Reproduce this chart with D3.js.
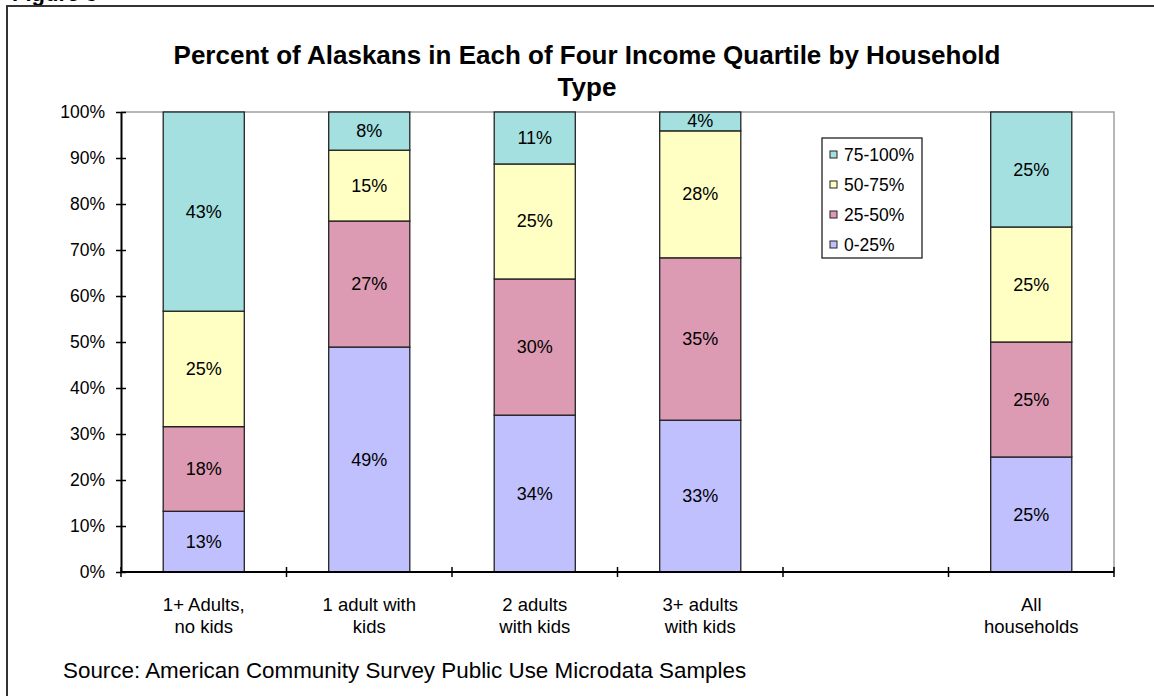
<html>
<script src="https://d3js.org/d3.v7.min.js"></script>
<style>
    body { margin: 0; background: #fff; }
    svg text { font-family: "Liberation Sans", Arial, sans-serif; }
</style>
<body>
<svg width="1154" height="696"></svg>
<script>
    // categories on the x axis (empty slot between 3+ and All)
    var categories = ["1+ Adults,|no kids", "1 adult with|kids", "2 adults|with kids", "3+ adults|with kids", "", "All|households"];
    var quartiles = ["0-25%", "25-50%", "50-75%", "75-100%"];
    var q0_25   = [13.2, 48.9, 34.1, 33.0, null, 25.0];
    var q25_50  = [18.4, 27.4, 29.6, 35.3, null, 25.0];
    var q50_75  = [25.1, 15.4, 25.0, 27.6, null, 25.0];
    var q75_100 = [43.3,  8.3, 11.3,  4.1, null, 25.0];
    var yTicks = [0, 10, 20, 30, 40, 50, 60, 70, 80, 90, 100];
    var colors = ["#c0c0ff", "#dd9bb3", "#ffffc4", "#a4e0e0"];

    var series = [q0_25, q25_50, q50_75, q75_100];

    var svg = d3.select("svg");

    // outer frame (figure border, cut at top-left)
    svg.append("text").attr("x", 12).attr("y", 1)
        .style("font-size", "22px").style("font-weight", "bold").text("Figure 3");
    svg.append("path").attr("d", "M7,696 V6 H1154")
        .attr("fill", "none").attr("stroke", "#333").attr("stroke-width", 2);

    var pLeft = 121, pRight = 1114, pTop = 112, pBottom = 572;

    var xs = d3.scaleBand().domain(d3.range(categories.length)).range([pLeft, pRight]);
    var ys = d3.scaleLinear().domain([0, 100]).range([pBottom, pTop]);

    // plot area border (grey top/right)
    svg.append("path").attr("d", "M" + pLeft + "," + pTop + " H" + pRight + " V" + pBottom)
        .attr("fill", "none").attr("stroke", "#a0a0a0").attr("stroke-width", 1.5);

    // title
    svg.append("text").attr("x", 587).attr("y", 64).attr("text-anchor", "middle")
        .style("font-size", "26px").style("font-weight", "bold")
        .text("Percent of Alaskans in Each of Four Income Quartile by Household");
    svg.append("text").attr("x", 587).attr("y", 96).attr("text-anchor", "middle")
        .style("font-size", "26px").style("font-weight", "bold")
        .text("Type");

    var barW = xs.bandwidth() * 0.49;

    series.forEach(function (vals, s) {
        vals.forEach(function (v, i) {
            if (v == null) return;
            var base = 0;
            for (var k = 0; k < s; k++) base += series[k][i];
            var cx = xs(i) + xs.bandwidth() / 2;
            svg.append("rect")
                .attr("x", cx - barW / 2)
                .attr("y", ys(base + v))
                .attr("width", barW)
                .attr("height", ys(base) - ys(base + v))
                .attr("fill", colors[s])
                .attr("stroke", "#222")
                .attr("stroke-width", 1.3);
            svg.append("text")
                .attr("x", cx)
                .attr("y", ys(base + v / 2) + 6)
                .attr("text-anchor", "middle")
                .style("font-size", "18px")
                .text(Math.round(v) + "%");
        });
    });

    // y axis
    var yAxis = svg.append("g").attr("transform", "translate(" + pLeft + ",0)")
        .call(d3.axisLeft(ys).tickValues(yTicks).tickFormat(function (d) { return d + "%"; })
            .tickSizeInner(5).tickSizeOuter(0).tickPadding(11));
    yAxis.selectAll(".tick line").attr("x1", 5).attr("x2", -5).attr("stroke", "#000").attr("stroke-width", 1.5);
    yAxis.select(".domain").attr("stroke", "#000").attr("stroke-width", 2);
    yAxis.selectAll("text").style("font-size", "17.5px").attr("fill", "#000");

    // x axis with boundary ticks
    var xg = svg.append("g");
    xg.append("line").attr("x1", pLeft).attr("x2", pRight).attr("y1", pBottom).attr("y2", pBottom)
        .attr("stroke", "#000").attr("stroke-width", 2);
    var bounds = d3.range(categories.length + 1).map(function (i) { return pLeft + i * xs.bandwidth(); });
    xg.selectAll("line.tk").data(bounds).enter().append("line").attr("class", "tk")
        .attr("x1", function (d) { return d; }).attr("x2", function (d) { return d; })
        .attr("y1", pBottom - 5).attr("y2", pBottom + 5)
        .attr("stroke", "#000").attr("stroke-width", 1.5);
    categories.forEach(function (c, i) {
        if (!c) return;
        var lines = c.split("|");
        lines.forEach(function (ln, j) {
            xg.append("text")
                .attr("x", xs(i) + xs.bandwidth() / 2)
                .attr("y", 611 + j * 22)
                .attr("text-anchor", "middle")
                .style("font-size", "18.5px")
                .text(ln);
        });
    });

    // legend
    var lg = svg.append("g").attr("transform", "translate(822,138)");
    lg.append("rect").attr("width", 100).attr("height", 120)
        .attr("fill", "#fff").attr("stroke", "#222").attr("stroke-width", 1.3);
    quartiles.slice().reverse().forEach(function (q, j) {
        var s = quartiles.length - 1 - j;
        lg.append("rect").attr("x", 8).attr("y", 13 + j * 30).attr("width", 7).attr("height", 7)
            .attr("fill", colors[s]).attr("stroke", "#222").attr("stroke-width", 1);
        lg.append("text").attr("x", 22).attr("y", 23 + j * 30)
            .style("font-size", "17.5px").text(q);
    });

    // source
    svg.append("text").attr("x", 63).attr("y", 678)
        .style("font-size", "22.4px").text("Source: American Community Survey Public Use Microdata Samples");
</script>
</body>
</html>
